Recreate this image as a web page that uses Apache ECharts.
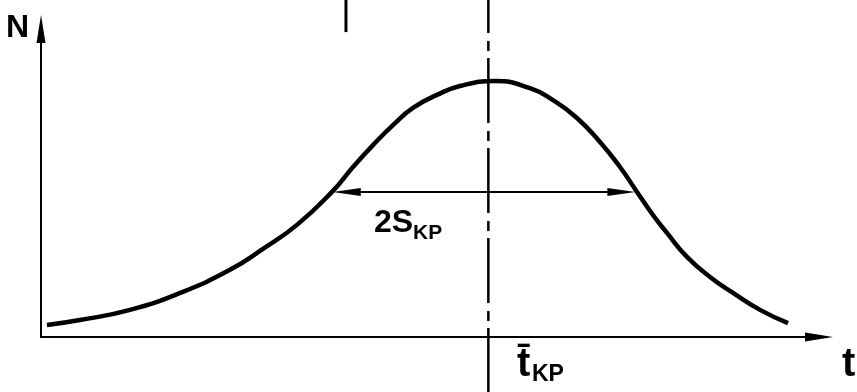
<!DOCTYPE html>
<html><head><meta charset="utf-8">
<script src="https://cdn.jsdelivr.net/npm/echarts@6/dist/echarts.min.js"></script>
<style>html,body{margin:0;padding:0;background:#fff}#c{width:857px;height:392px}</style>
</head><body><div id="c"></div>
<script>
// ---- data (arbitrary units: t 0..100, N 0..100) ----
const curveT = [0.77, 5.01, 11.44, 17.87, 24.29, 28.53, 32.90, 37.40, 40.10, 42.67, 45.24, 47.81, 50.90, 53.86, 58.35, 62.85, 65.81, 68.89, 71.85, 74.42, 76.61, 78.66, 80.46, 83.03, 85.99, 88.95, 92.42, 96.02];
const curveN = [3.9, 5.5, 8.8, 14.3, 21.8, 28.6, 36.4, 47.1, 55.2, 62.3, 68.8, 74.4, 78.6, 81.5, 83.1, 80.8, 76.9, 71.1, 63.3, 55.2, 47.1, 39.6, 33.8, 26.0, 19.5, 14.3, 8.8, 4.5];
const meanT = 57.5;               // t-bar (position of the dash-dot line)
const meanLineN = [112, -20];     // dash-dot line runs beyond the plot, top to bottom
const spanT = [37.5, 76.4];       // ends of the 2S double arrow
const spanN = 47.1;               // height of the 2S double arrow
const stubT = 39.2;               // short stroke at the top edge
const stubN = [112, 99];
const axisNames = ['t', 'N'];
const spanLabel = ['2S', 'KP'];
const meanLabel = ['t\u0304', 'KP'];

const chart = echarts.init(document.getElementById('c'), null, {renderer: 'canvas'});
const arrowInset = 1.8; // half arrow-head length, in t units
const fam = '"Liberation Sans", Arial, sans-serif';
const axisCommon = {
  type: 'value', min: 0, max: 100,
  axisLabel: {show: false}, axisTick: {show: false}, splitLine: {show: false},
  axisLine: {show: true, symbol: ['none', 'triangle'], symbolSize: [9, 28],
             lineStyle: {color: '#000', width: 2}}
};
function txt(x, y, s, size) {
  return {type: 'text', x: x, y: y, silent: true,
    style: {text: s, fontFamily: fam, fontWeight: 'bold', fontSize: size, fill: '#000', verticalAlign: 'top', align: 'left'}};
}
chart.setOption({
  animation: false,
  backgroundColor: '#fff',
  grid: {left: 41, right: 38, top: 29, bottom: 55},
  xAxis: Object.assign({}, axisCommon),
  yAxis: Object.assign({}, axisCommon),
  series: [
    {
      type: 'line', smooth: 0.5, showSymbol: false, symbol: 'none', silent: true,
      data: curveT.map((t, i) => [t, curveN[i]]),
      lineStyle: {color: '#000', width: 4.5},
      markLine: {
        silent: true, symbol: ['triangle', 'triangle'], symbolSize: [8, 28],
        label: {show: false},
        lineStyle: {color: '#000', width: 2, type: 'solid'},
        data: [[{coord: [spanT[0] + arrowInset, spanN]}, {coord: [spanT[1] - arrowInset, spanN]}]]
      }
    },
    {
      type: 'line', clip: false, showSymbol: false, symbol: 'none', silent: true,
      data: meanLineN.map(n => [meanT, n]),
      lineStyle: {color: '#000', width: 2.5, type: [65, 8, 10, 7], dashOffset: 24}
    },
    {
      type: 'line', clip: false, showSymbol: false, symbol: 'none', silent: true,
      data: stubN.map(n => [stubT, n]),
      lineStyle: {color: '#000', width: 3}
    }
  ],
  graphic: [
    txt(6, 12, axisNames[1], 32),
    txt(842, 345, axisNames[0], 40),
    txt(374, 207, spanLabel[0], 32),
    txt(413, 223, spanLabel[1], 21),
    txt(517, 345, meanLabel[0], 40),
    txt(532, 363, meanLabel[1], 23)
  ]
});
</script></body></html>
